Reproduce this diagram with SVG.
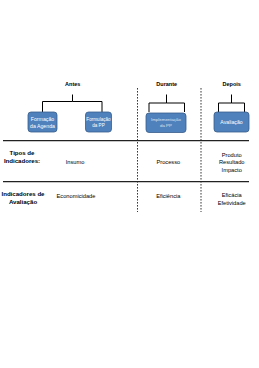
<svg xmlns="http://www.w3.org/2000/svg" width="259" height="368" viewBox="0 0 259 368">
<style>
.bg{fill:#ffffff}
.box{fill:#4F81BD;stroke:#385D8A;stroke-width:0.8}
.bt{font-family:"Liberation Sans",Arial,sans-serif;font-size:5.2px;fill:#ffffff;text-anchor:middle}
.bt3{font-family:"Liberation Sans",Arial,sans-serif;font-size:4.6px;fill:#ffffff;text-anchor:middle}
.bt2{font-family:"Liberation Sans",Arial,sans-serif;font-size:4.4px;fill:#dce6f2;text-anchor:middle}
.hd{font-family:"Liberation Sans",Arial,sans-serif;font-size:5.5px;font-weight:bold;fill:#000;text-anchor:middle}
.lb{font-family:"Liberation Sans",Arial,sans-serif;font-size:6.1px;font-weight:bold;fill:#000;text-anchor:middle}
.tx{font-family:"Liberation Sans",Arial,sans-serif;font-size:5.7px;fill:#000;text-anchor:middle}
.brace{fill:none;stroke:#000;stroke-width:1}
.hl{stroke:#222;stroke-width:1.2}
.dl{stroke:#222;stroke-width:0.9;stroke-dasharray:1.6 1.4}
</style>
<rect class="bg" x="0" y="0" width="259" height="368"/>
<g id="connectors">
<path class="brace" d="M42.5,112 V101.5 H72.5 V94.5 M72.5,101.5 H102 V112"/>
<path class="brace" d="M149,112 V103 H166.5 V94.5 M166.5,103 H184.5 V112"/>
<path class="brace" d="M218.5,112 V103 H231.5 V94.5 M231.5,103 H244.5 V112"/>
<line class="hl" x1="3" y1="140.7" x2="249" y2="140.7"/>
<line class="hl" x1="3" y1="181.7" x2="249" y2="181.7"/>
<line class="dl" x1="137.5" y1="88" x2="137.5" y2="212"/>
<line class="dl" x1="201" y1="88" x2="201" y2="212"/>
</g>
<g id="antes"><text class="hd" x="72.7" y="86">Antes</text></g>
<g id="durante"><text class="hd" x="166.7" y="86">Durante</text></g>
<g id="depois"><text class="hd" x="231.7" y="86">Depois</text></g>
<g id="formacao">
<rect class="box" x="28" y="112" width="29" height="20" rx="3"/>
<text class="bt" x="42.5" y="121">Formação</text>
<text class="bt" x="42.5" y="128">da Agenda</text>
</g>
<g id="formulacao">
<rect class="box" x="85.5" y="112" width="26" height="20" rx="3"/>
<text class="bt3" x="98.5" y="120.8">Formulação</text>
<text class="bt3" x="98.5" y="127">da PP</text>
</g>
<g id="implementacao">
<rect class="box" x="146" y="113" width="40" height="19.5" rx="3"/>
<text class="bt2" x="166" y="121">Implementação</text>
<text class="bt2" x="166" y="127">da PP</text>
</g>
<g id="avaliacao">
<rect class="box" x="214" y="112" width="35" height="20" rx="3"/>
<text class="bt" x="231.5" y="123.8">Avaliação</text>
</g>
<g id="tipos">
<text class="lb" x="22" y="155">Tipos de</text>
<text class="lb" x="22" y="163">Indicadores:</text>
</g>
<g id="insumo"><text class="tx" x="75" y="163.5">Insumo</text></g>
<g id="processo"><text class="tx" x="168.3" y="163.5">Processo</text></g>
<g id="produto">
<text class="tx" x="231.7" y="156.5">Produto</text>
<text class="tx" x="231.7" y="164">Resultado</text>
<text class="tx" x="231.7" y="171.5">Impacto</text>
</g>
<g id="indaval">
<text class="lb" x="23" y="196">Indicadores de</text>
<text class="lb" x="23" y="203.5">Avaliação</text>
</g>
<g id="economicidade"><text class="tx" x="76" y="198">Economicidade</text></g>
<g id="eficiencia"><text class="tx" x="168.3" y="198">Eficiência</text></g>
<g id="eficacia">
<text class="tx" x="231.7" y="197">Eficácia</text>
<text class="tx" x="231.7" y="204.5">Efetividade</text>
</g>
</svg>
